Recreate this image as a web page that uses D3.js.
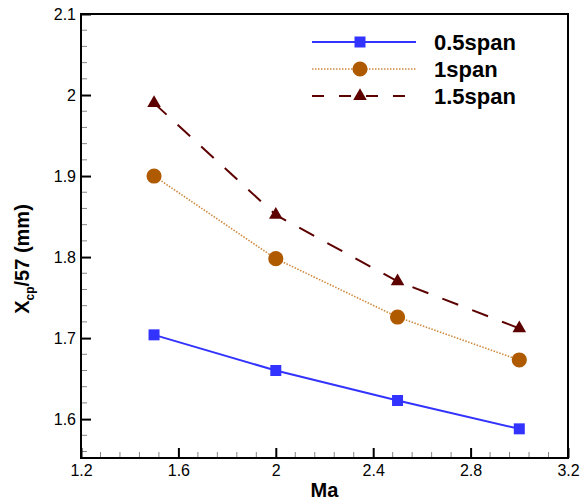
<!DOCTYPE html>
<html><head><meta charset="utf-8">
<script src="https://cdn.jsdelivr.net/npm/d3@7"></script>
<style>body{margin:0;background:#fff}svg{display:block;font-family:"Liberation Sans",Arial,sans-serif}</style>
</head><body>
<svg id="c" width="586" height="500"></svg>
<script>
const ma = [1.5, 2.0, 2.5, 3.0];
const span05 = [1.704, 1.660, 1.623, 1.588];
const span1 = [1.900, 1.798, 1.726, 1.673];
const span15 = [1.990, 1.852, 1.770, 1.712];
const seriesNames = ["0.5span", "1span", "1.5span"];
const xTicks = [1.2, 1.6, 2.0, 2.4, 2.8, 3.2];
const yTicks = [1.6, 1.7, 1.8, 1.9, 2.0, 2.1];

const svg = d3.select("#c");
const L = 81, R = 568, T = 14, B = 458;
const x = d3.scaleLinear().domain([1.2, 3.2]).range([L, R]);
const y = d3.scaleLinear().domain([1.552, 2.1]).range([B, T]);

// minor ticks
const xMinor = d3.range(1.2, 3.2001, 0.08).filter(v => !xTicks.some(t => Math.abs(t - v) < 1e-6));
const yMinor = d3.range(1.56, 2.1001, 0.02).filter(v => !yTicks.some(t => Math.abs(t - v) < 1e-6));
const g = svg.append("g");
g.selectAll(".xm").data(xMinor).enter().append("line")
  .attr("x1", d => x(d)).attr("x2", d => x(d)).attr("y1", B).attr("y2", B - 6)
  .attr("stroke", "#888").attr("stroke-width", 1);
g.selectAll(".ym").data(yMinor).enter().append("line")
  .attr("y1", d => y(d)).attr("y2", d => y(d)).attr("x1", L).attr("x2", L + 6)
  .attr("stroke", "#888").attr("stroke-width", 1);

// major axes with inward ticks
const xAxis = d3.axisBottom(x).tickValues(xTicks).tickSize(-10).tickPadding(14)
  .tickFormat(d => d3.format("")(+d.toFixed(1)));
const yAxis = d3.axisLeft(y).tickValues(yTicks).tickSize(-10).tickPadding(14)
  .tickFormat(d => d3.format("")(+d.toFixed(1)));
const gx = svg.append("g").attr("transform", `translate(0,${B})`).call(xAxis);
const gy = svg.append("g").attr("transform", `translate(${L},0)`).call(yAxis);
[gx, gy].forEach(a => {
  a.select(".domain").remove();
  a.selectAll(".tick line").attr("stroke", "#000").attr("stroke-width", 2);
  a.selectAll(".tick text").attr("font-size", 16).attr("fill", "#000")
    .attr("font-family", '"Liberation Sans",Arial,sans-serif');
});
gx.selectAll(".tick text").attr("dy", "0.71em").attr("y", 7);
gy.selectAll(".tick text").attr("x", -5);

// frame
svg.append("rect").attr("x", L).attr("y", T).attr("width", R - L).attr("height", B - T)
  .attr("fill", "none").attr("stroke", "#000").attr("stroke-width", 2);

const styles = [
  {vals: span05, stroke: "#3333ff", dash: null, width: 2, marker: "square", fill: "#3333ff"},
  {vals: span1, stroke: "#d08a40", dash: "1.5,1.5", width: 1.6, marker: "circle", fill: "#b05a00"},
  {vals: span15, stroke: "#5c0000", dash: "17,15", width: 2, marker: "triangle", fill: "#5c0000"}
];
const line = d3.line().x(d => x(d[0])).y(d => y(d[1]));
const sym = {square: d3.symbolSquare, circle: d3.symbolCircle, triangle: d3.symbolTriangle};
const sizes = {square: 121, circle: 180, triangle: 80};

function drawMarker(sel, st, cx, cy) {
  sel.append("path").attr("d", d3.symbol().type(sym[st.marker]).size(sizes[st.marker])())
    .attr("transform", `translate(${cx},${cy})`).attr("fill", st.fill);
}

styles.forEach(st => {
  const pts = ma.map((m, i) => [m, st.vals[i]]);
  svg.append("path").datum(pts).attr("d", line).attr("fill", "none")
    .attr("stroke", st.stroke).attr("stroke-width", st.width)
    .attr("stroke-dasharray", st.dash);
  pts.forEach(p => drawMarker(svg, st, x(p[0]), y(p[1])));
});

// legend
const legY = [42, 69, 96];
styles.forEach((st, i) => {
  svg.append("line").attr("x1", 312).attr("x2", 416).attr("y1", legY[i]).attr("y2", legY[i])
    .attr("stroke", st.stroke).attr("stroke-width", st.width)
    .attr("stroke-dasharray", i === 2 ? "12,15" : st.dash);
  drawMarker(svg, st, 360, legY[i]);
  svg.append("text").attr("x", 434).attr("y", legY[i] + 8).attr("font-size", 22)
    .attr("font-weight", "bold").attr("fill", "#000").text(seriesNames[i]);
});

// axis titles
svg.append("text").attr("x", (L + R) / 2).attr("y", 497).attr("text-anchor", "middle")
  .attr("font-size", 20).attr("font-weight", "bold").text("Ma");
const yt = svg.append("text").attr("transform", "translate(29,259) rotate(-90)")
  .attr("text-anchor", "middle").attr("font-size", 20).attr("font-weight", "bold");
yt.append("tspan").text("X");
yt.append("tspan").attr("font-size", 12).attr("dy", 5).text("cp");
yt.append("tspan").attr("dy", -5).text("/57 (mm)");
</script>
</body></html>
